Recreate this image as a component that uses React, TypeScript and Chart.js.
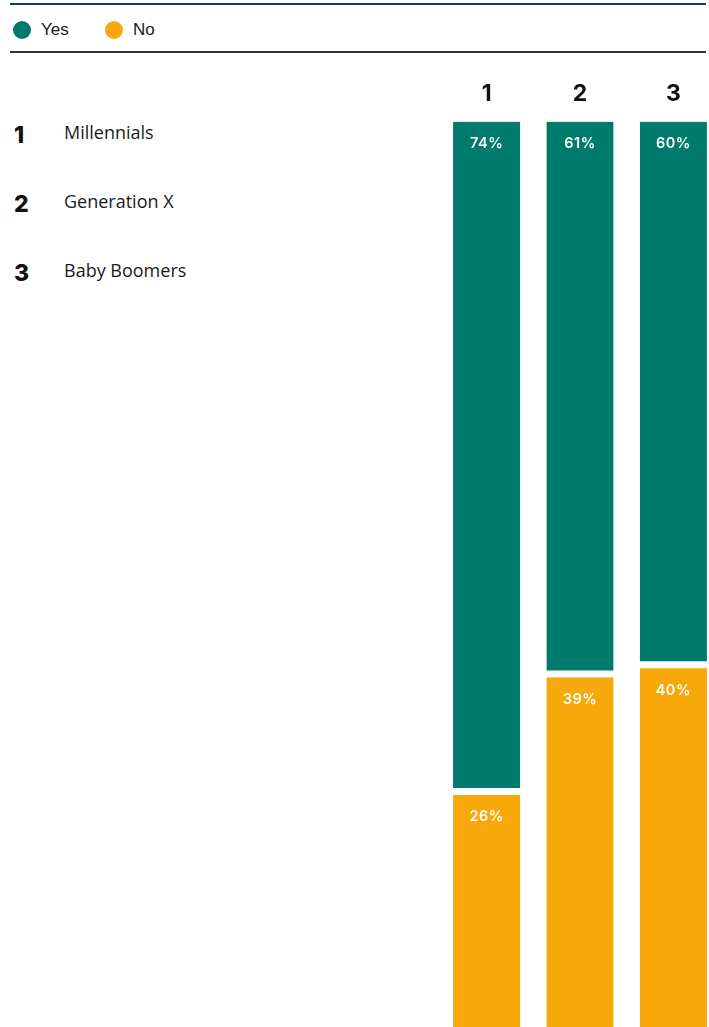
import React, { useEffect, useRef } from "react";
import { Chart, registerables } from "chart.js";

Chart.register(...registerables);

const categoryNumbers = ["1", "2", "3"];
const categoryNames = ["Millennials", "Generation X", "Baby Boomers"];
const yesValues = [74, 61, 60];
const noValues = [26, 39, 40];
const seriesNames = ["Yes", "No"];
const seriesColors = ["#007A6C", "#F7A80A"];

const labelPlugin = {
  id: "segLabels",
  afterDatasetsDraw(chart: any) {
    const ctx = chart.ctx;
    ctx.save();
    ctx.fillStyle = "#ffffff";
    ctx.font = "600 14.5px Inter";
    try { (ctx as any).letterSpacing = "0.5px"; } catch (e) {}
    ctx.textAlign = "center";
    ctx.textBaseline = "middle";
    chart.data.datasets.forEach((ds: any, di: number) => {
      const meta = chart.getDatasetMeta(di);
      meta.data.forEach((el: any, i: number) => {
        const p = el.getProps(["x", "y", "base"], true);
        const top = Math.min(p.y, p.base);
        const bw = ds.borderWidth && ds.borderWidth.top ? ds.borderWidth.top : 0;
        ctx.fillText(ds.data[i] + "%", p.x, top + bw + 22);
      });
    });
    ctx.restore();
  },
};

export default function App() {
  const ref = useRef<HTMLCanvasElement | null>(null);

  useEffect(() => {
    if (!ref.current) return;
    const chart = new Chart(ref.current, {
      type: "bar",
      data: {
        labels: categoryNumbers,
        datasets: [
          {
            label: seriesNames[0],
            data: yesValues,
            backgroundColor: seriesColors[0],
            borderColor: "#ffffff",
            borderWidth: { top: 0, bottom: 3.5, left: 0, right: 0 },
            borderSkipped: false,
          },
          {
            label: seriesNames[1],
            data: noValues,
            backgroundColor: seriesColors[1],
            borderColor: "#ffffff",
            borderWidth: { top: 3.5, bottom: 0, left: 0, right: 0 },
            borderSkipped: false,
          },
        ],
      },
      options: {
        animation: false,
        responsive: false,
        maintainAspectRatio: false,
        layout: { padding: 0 },
        datasets: { bar: { barPercentage: 1, categoryPercentage: 67 / 93 } },
        plugins: { legend: { display: false }, tooltip: { enabled: false } },
        scales: {
          x: {
            stacked: true,
            position: "top",
            grid: { display: false, drawTicks: false },
            border: { display: false },
            ticks: {
              color: "#111111",
              font: { family: "Inter", size: 23, weight: "bold" },
              padding: 14,
            },
          },
          y: {
            stacked: true,
            reverse: true,
            min: 0,
            max: 100,
            display: false,
          },
        },
      },
      plugins: [labelPlugin],
    } as any);
    return () => chart.destroy();
  }, []);

  const legendX = [22, 114];
  return (
    <div
      style={{
        position: "fixed",
        left: 0,
        top: 0,
        width: 709,
        height: 1027,
        overflow: "hidden",
        background: "#fff",
        fontFamily: "'Open Sans', sans-serif",
        color: "#1a1a1a",
      }}
    >
      <div style={{ position: "absolute", left: 10, top: 3, width: 696, height: 2, background: "#0D3B6E" }} />
      {seriesNames.map((n, i) => (
        <React.Fragment key={n}>
          <div
            style={{
              position: "absolute",
              left: legendX[i] - 9,
              top: 21,
              width: 18,
              height: 18,
              borderRadius: "50%",
              background: seriesColors[i],
            }}
          />
          <div
            style={{
              position: "absolute",
              left: legendX[i] + 19,
              top: 19,
              height: 22,
              lineHeight: "22px",
              fontSize: 17,
              fontFamily: "'Liberation Sans', Arial, sans-serif",
            }}
          >
            {n}
          </div>
        </React.Fragment>
      ))}
      <div style={{ position: "absolute", left: 10, top: 51, width: 696, height: 2, background: "#333333" }} />
      {categoryNumbers.map((num, i) => (
        <React.Fragment key={num}>
          <div
            style={{
              position: "absolute",
              left: 14,
              top: 121 + i * 69,
              height: 28,
              lineHeight: "28px",
              fontSize: 23,
              fontWeight: 800,
              fontFamily: "Inter, sans-serif",
              color: "#111",
            }}
          >
            {num}
          </div>
          <div
            style={{
              position: "absolute",
              left: 64,
              top: 119 + i * 69,
              height: 26,
              lineHeight: "26px",
              fontSize: 18,
            }}
          >
            {categoryNames[i]}
          </div>
        </React.Fragment>
      ))}
      <canvas
        ref={ref}
        width={280}
        height={961}
        style={{ position: "absolute", left: 440, top: 66, width: 280, height: 961 }}
      />
    </div>
  );
}
